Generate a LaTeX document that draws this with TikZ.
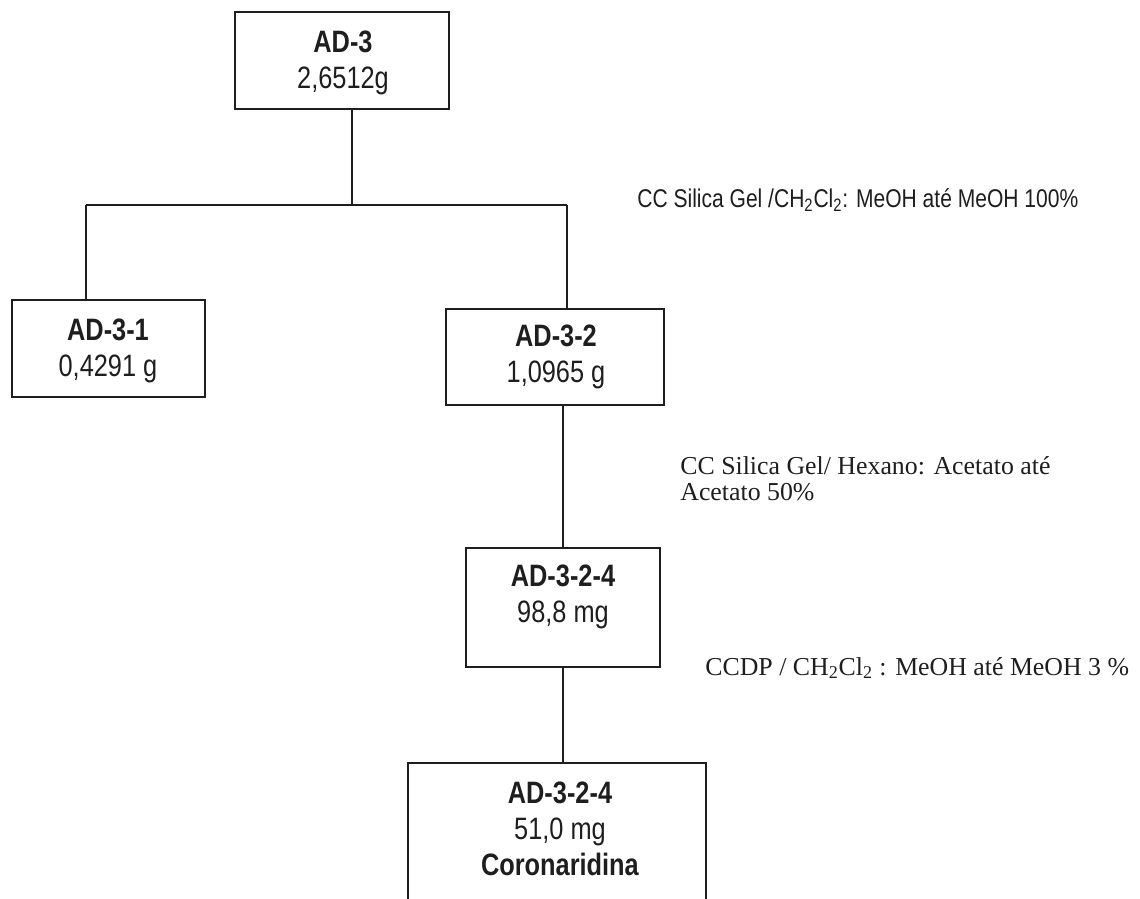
\documentclass[tikz,border=0pt]{standalone}
\usepackage{fontspec}
\setmainfont{Liberation Sans}[FakeStretch=0.82]
\newfontfamily\serifnote{Liberation Serif}
\definecolor{inkc}{RGB}{30,30,30}

\begin{document}
\begin{tikzpicture}[x=0.02cm,y=-0.02cm,
        fbox/.style={draw=inkc,line width=0.9pt,inner sep=0pt},
        ftext/.style={text=inkc,align=center,inner sep=0pt,font=\fontsize{17.6}{20.4}\selectfont},
        link/.style={draw=inkc,line width=0.7pt},
        nsans/.style={text=inkc,anchor=west,inner sep=0pt,font=\fontsize{14.6}{16}\selectfont},
        nserif/.style={text=inkc,anchor=west,align=left,inner sep=0pt,font=\serifnote\fontsize{14.7}{14.8}\selectfont}]
        \useasboundingbox (0,0) rectangle (1140,899);
        \clip (0,0) rectangle (1140,899);
        \node[fbox,minimum width=4.28cm,minimum height=1.94cm] (ad3) at (342,60.5) {};
        \node[ftext] (ad3txt) at (343,63) {\textbf{AD-3}\\2,6512g};
        \node[fbox,minimum width=3.86cm,minimum height=1.94cm] (ad31) at (108.5,348.5) {};
        \node[ftext] (ad31txt) at (108,351) {\textbf{AD-3-1}\\0,4291 g};
        \node[fbox,minimum width=4.36cm,minimum height=1.92cm] (ad32) at (555,357) {};
        \node[ftext] (ad32txt) at (556,356.5) {\textbf{AD-3-2}\\1,0965 g};
        \node[fbox,minimum width=3.88cm,minimum height=2.38cm] (ad324) at (563,607.5) {};
        \node[ftext] (ad324txt) at (563,597) {\textbf{AD-3-2-4}\\98,8 mg};
        \node[fbox,minimum width=5.96cm,minimum height=3.94cm] (fin) at (557,861.5) {};
        \node[ftext] (fintxt) at (560,829) {\textbf{AD-3-2-4}\\51,0 mg\\\textbf{Coronaridina}};
        \coordinate (barL) at (86,205);
        \coordinate (barM) at (352,205);
        \coordinate (barR) at (567,205);
        \draw[link] (barM |- ad3.south) -- (barM);
        \draw[link] (barL) -- (barR);
        \draw[link] (barL) -- (barL |- ad31.north);
        \draw[link] (barR) -- (barR |- ad32.north);
        \draw[link] (ad324.north |- ad32.south) -- (ad324.north);
        \draw[link] (ad324.south) -- (ad324.south |- fin.north);
        \node[nsans] (cc1) at (637,200) {CC Silica Gel /CH\textsubscript{2}Cl\textsubscript{2}: MeOH até MeOH 100\%};
        \node[nserif] (cc2) at (680,479) {CC Silica Gel/ Hexano: Acetato até\\Acetato 50\%};
        \node[nserif] (ccdp) at (705,668) {CCDP / CH\textsubscript{2}Cl\textsubscript{2} : MeOH até MeOH 3 \%};
\end{tikzpicture}
\end{document}
